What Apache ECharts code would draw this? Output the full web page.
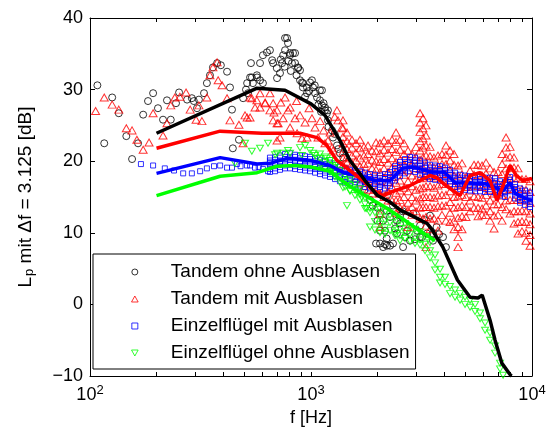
<!DOCTYPE html>
<html>
<head>
<meta charset="utf-8">
<script src="https://cdn.jsdelivr.net/npm/echarts@6/dist/echarts.min.js"></script>
<style>
  html, body { margin: 0; padding: 0; background: #fff; }
  #main { width: 551px; height: 435px; }
</style>
</head>
<body>
<div id="main"></div>
<script>
// tick positions on the log frequency axis
const xTicks = [100, 200, 300, 400, 500, 600, 700, 800, 900,
  1000, 2000, 3000, 4000, 5000, 6000, 7000, 8000, 9000, 10000];
const xLabels = [100, 1000, 10000];

// Tandem ohne Ausblasen (black circles) [f, Lp]
const blackLow = [[108,30.6],[116,22.5],[126,28.9],[135,26.7],[146,23.5],[155,20.3],[165,22.5],[174,26.5],[183,28.4],[193,29.5],[203,27.4],[214,25.8],[223,28.5],[232,25.8],[245,28.1],[253,29.6],[275,28.6],[289,28.8],[295,28.4],[305,27.4],[311,28.6],[328,29.5],[338,30.9],[349,32.0],[360,33.1],[376,33.7],[391,33.4],[417,32.5],[430,30.3],[439,27.2],[443,21.8],[472,23.0],[493,28.8],[508,30.0],[514,30.9],[519,29.5],[530,31.7],[535,33.7],[540,31.7],[546,30.9],[569,32.0],[570,31.7],[588,31.3],[588,33.7],[606,30.9],[606,34.8]];
const blackMid = [[632,35.2],[652,35.5],[667,34.1],[674,33.7],[700,33.0],[702,31.6],[724,32.3],[730,34.2],[740,33.7],[748,34.8],[760,33.2],[763,37.2],[763,35.5],[779,37.2],[787,36.5],[790,34.0],[804,35.1],[804,34.8],[810,32.6],[820,33.7],[829,35.1],[847,33.7],[847,35.1],[860,32.0],[874,33.0],[874,33.1],[892,32.7],[892,31.3],[910,31.0],[919,30.9],[919,30.3],[940,29.0],[959,30.3],[959,29.5],[980,29.8],[990,31.0],[1010,31.3],[1021,30.3],[1040,30.6],[1043,29.5],[1065,28.9],[1080,27.9],[1098,29.9],[1098,28.5],[1110,26.9],[1121,27.8],[1121,29.9],[1140,28.1],[1157,27.1],[1157,27.5],[1180,26.7],[1193,25.7],[1193,27.1],[1200,24.8],[1245,24.3],[1258,23.3],[1280,23.8],[1311,22.2],[1330,21.7],[1352,21.1],[1400,20.5]];
const blackHigh = [[1750,16.0],[1850,14.6],[1900,13.8],[1970,8.5],[1998,13.5],[1998,11.7],[2052,12.7],[2052,10.3],[2052,8.5],[2120,11.7],[2120,8.0],[2162,10.3],[2162,8.4],[2200,9.2],[2207,15.2],[2207,13.1],[2207,8.2],[2278,12.2],[2278,8.2],[2350,13.8],[2350,8.5],[2400,10.6],[2449,11.7],[2449,9.9],[2528,12.4],[2528,11.3],[2600,13.0],[2610,8.0],[2663,9.4],[2720,10.3],[2806,8.9],[2900,12.7],[2950,9.1],[3020,10.3],[3114,11.0],[3114,9.4],[3180,9.4],[3250,11.8],[3350,9.9],[3456,12.4],[3565,8.9],[3565,9.9],[3700,10.8],[3800,9.8],[3957,9.4],[4080,8.0]];

// Tandem mit Ausblasen (red triangles)
const redLow = [[106,27.0],[116,28.9],[126,27.9],[135,27.2],[146,24.6],[155,24.3],[163,23.0],[174,21.6],[185,22.6],[193,26.7],[214,23.6],[223,25.3],[232,27.8],[242,28.9],[255,29.0],[272,29.6],[284,27.2],[302,25.8],[311,27.8],[321,25.6],[338,28.9],[349,32.0],[360,33.1],[376,33.8],[380,31.3],[396,30.6],[417,28.8],[430,25.7],[472,25.1],[493,22.5],[503,26.4],[530,26.1],[540,28.8],[569,28.5],[588,27.5],[620,28.2],[652,29.5],[674,28.1],[702,27.1],[702,25.3]];
const redMid = [[514,26.1],[530,28.9],[558,27.5],[588,29.5],[620,28.1],[652,27.1],[674,25.7],[680,26.8],[702,22.9],[710,25.3],[724,23.3],[730,28.2],[748,26.0],[763,28.9],[787,27.1],[804,24.7],[804,27.5],[847,26.0],[860,28.4],[865,23.9],[892,26.4],[910,23.2],[940,25.4],[959,23.3],[980,27.4],[1010,26.0],[1043,24.7],[1076,23.3],[1100,25.6],[1140,24.3],[1157,22.5],[1193,22.9],[1220,24.0],[1245,21.9],[1258,21.5],[1280,26.2],[1311,27.1],[1325,25.7],[1381,24.7]];
// dense high-frequency part: [f, Lp, Lp, ...]
const redDense = [
  [1396, 25.7, 24.6, 23.4, 22.5, 21.3, 20.4, 19.5],
  [1455, 24.0, 22.8, 21.7, 20.6, 19.8, 19.0],
  [1533, 23.0, 21.9, 20.8, 19.7, 18.5],
  [1598, 22.5, 21.2, 20.1, 18.9, 17.5],
  [1666, 23.0, 21.8, 20.5, 19.3, 18.2, 17.0],
  [1737, 22.0, 20.8, 19.6, 18.3, 16.5],
  [1811, 22.2, 21.0, 19.7, 18.4, 17.2, 16.0],
  [1888, 21.5, 20.2, 19.0, 17.6, 15.5],
  [1969, 22.6, 21.4, 20.0, 18.8, 17.3, 16.0],
  [2052, 22.5, 21.1, 19.9, 18.5, 17.2, 15.5, 12.7, 10.8],
  [2140, 22.9, 21.6, 20.3, 19.0, 17.6, 16.2, 15.0],
  [2231, 22.5, 21.2, 19.8, 18.5, 17.1, 15.8, 14.5],
  [2326, 23.0, 21.7, 20.4, 19.1, 17.8, 16.4, 14.5],
  [2425, 24.0, 22.7, 21.3, 19.9, 18.6, 17.0, 15.6, 14.5, 12.8],
  [2528, 23.0, 21.6, 20.2, 18.8, 17.3, 15.9, 14.6, 13.5],
  [2635, 22.5, 21.0, 19.6, 18.1, 16.3, 15.0, 13.5],
  [2748, 21.5, 20.1, 18.7, 17.2, 15.8, 14.2, 13.1, 10.8],
  [2864, 21.0, 19.6, 18.0, 16.5, 15.0, 13.6, 12.5],
  [2987, 22.0, 20.6, 19.0, 17.5, 16.0, 14.5, 13.0],
  [3114, 26.7, 25.4, 24.1, 22.8, 21.5, 20.2, 18.9, 17.6, 16.2, 14.8, 13.5, 12.0],
  [3212, 26.0, 24.6, 23.2, 21.9, 20.5, 19.1, 17.7, 16.3, 15.0, 13.6, 12.0],
  [3314, 25.0, 23.6, 22.2, 20.8, 19.4, 18.0, 16.5, 15.0, 13.6, 12.2, 11.0, 8.0],
  [3456, 22.0, 20.7, 19.3, 17.9, 16.5, 15.0, 13.6, 12.0, 10.5],
  [3602, 20.5, 19.1, 17.7, 16.3, 14.9, 13.5, 12.0],
  [3755, 20.8, 19.4, 18.0, 16.6, 15.2, 13.7, 11.7, 10.3],
  [3915, 21.0, 19.6, 18.2, 16.8, 15.3, 13.8, 12.5],
  [4082, 22.2, 20.9, 19.6, 18.2, 16.8, 15.3, 13.8, 11.7],
  [4257, 21.5, 20.1, 18.7, 17.3, 15.8, 14.3, 12.8, 11.5],
  [4438, 21.0, 19.5, 18.0, 16.5, 15.0, 13.5, 11.7, 10.5],
  [4627, 19.4, 18.0, 16.6, 15.1, 13.6, 12.1, 10.8, 9.4, 8.0],
  [4824, 19.7, 18.2, 16.8, 15.3, 13.8, 12.3, 10.5],
  [5029, 17.7, 16.4, 15.0, 13.6, 12.2],
  [5244, 18.7, 17.3, 15.9, 14.5, 13.0],
  [5467, 19.5, 18.1, 16.6, 15.1, 13.5],
  [5700, 19.5, 18.0, 16.5, 15.0, 13.5, 12.3],
  [5942, 19.4, 18.0, 16.4, 14.9, 13.4, 12.5],
  [6195, 19.8, 18.3, 16.8, 15.3, 13.8, 12.5],
  [6459, 19.0, 17.5, 16.0, 14.5, 13.0, 11.7],
  [6733, 18.5, 17.0, 15.5, 14.0, 12.4, 10.6],
  [7020, 18.5, 17.0, 15.5, 14.0, 12.5],
  [7319, 21.0, 19.6, 18.2, 16.7, 15.2, 13.6, 11.7],
  [7630, 23.3, 21.9, 20.5, 19.0, 17.5, 16.0, 14.5, 13.3],
  [7956, 22.0, 20.6, 19.1, 17.6, 16.1, 14.6, 12.7],
  [8292, 20.5, 19.1, 17.6, 16.1, 14.6, 13.0, 11.3],
  [8645, 19.0, 17.6, 16.1, 14.6, 13.0, 11.5, 9.9],
  [9013, 17.5, 16.1, 14.6, 13.1, 11.6, 10.2],
  [9395, 17.5, 16.0, 14.5, 13.0, 11.5, 10.0, 8.9],
  [9800, 17.2, 15.7, 14.2, 12.7, 11.2, 9.7, 8.2]
];

// Einzelflügel mit Ausblasen (blue squares)
const blueLow = [[170,19.6],[193,19.4],[218,19.0],[240,18.7],[264,18.3],[289,18.3],[315,18.6],[338,19.0],[364,19.3],[388,19.4],[417,19.1],[439,19.1],[462,19.6],[480,19.3],[513,19.4],[530,19.4],[558,19.1],[580,19.2],[606,18.9],[639,18.6]];
const blueDense = [
  [652, 18.5, 18.9, 19.3, 19.8, 20.1, 20.5], [688, 18.6, 19.0, 19.5, 19.8, 20.2, 20.6],
  [724, 18.8, 19.2, 19.6, 20.0, 20.5, 20.8], [763, 19.0, 19.4, 19.8, 20.3, 20.6, 21.0],
  [804, 19.0, 19.5, 19.8, 20.2, 20.6, 21.1], [847, 18.9, 19.3, 19.7, 20.1, 20.6, 20.9],
  [892, 18.8, 19.2, 19.7, 20.0, 20.4, 20.8], [940, 18.7, 19.1, 19.5, 20.0, 20.3, 20.7],
  [990, 18.6, 19.0, 19.4, 19.8, 20.3, 20.6], [1043, 18.4, 18.9, 19.2, 19.6, 20.0, 20.4],
  [1098, 18.2, 18.6, 19.0, 19.5, 19.8, 20.2], [1157, 18.0, 18.4, 18.9, 19.2, 19.6, 20.0],
  [1219, 17.8, 18.2, 18.6, 19.0, 19.5, 19.8], [1284, 17.5, 17.9, 18.4, 18.7, 19.1, 19.5],
  [1352, 17.2, 17.6, 18.0, 18.5, 18.8, 19.2], [1425, 17.0, 17.5, 17.8, 18.2, 18.6, 19.0],
  [1501, 16.8, 17.2, 17.6, 18.1, 18.4, 18.8], [1581, 16.7, 17.1, 17.5, 17.9, 18.4, 18.7],
  [1666, 16.6, 17.0, 17.5, 17.8, 18.2, 18.6], [1755, 16.4, 16.8, 17.2, 17.7, 18.0, 18.4],
  [1849, 16.2, 16.7, 17.0, 17.4, 17.8, 18.2], [1948, 16.1, 16.5, 16.9, 17.4, 17.7, 18.1],
  [2052, 16.0, 16.4, 16.9, 17.2, 17.6, 18.0], [2162, 16.2, 16.6, 17.0, 17.5, 17.8, 18.2],
  [2278, 16.5, 16.9, 17.4, 17.7, 18.1, 18.5], [2400, 17.3, 17.7, 18.1, 18.6, 18.9, 19.3],
  [2528, 17.9, 18.4, 18.7, 19.1, 19.5, 19.9], [2663, 18.3, 18.7, 19.1, 19.6, 19.9, 20.3],
  [2806, 18.6, 19.0, 19.5, 19.8, 20.2, 20.6], [2956, 18.5, 18.9, 19.3, 19.8, 20.1, 20.5],
  [3114, 18.1, 18.6, 18.9, 19.3, 19.7, 20.1], [3281, 17.8, 18.2, 18.6, 19.1, 19.4, 19.8],
  [3456, 17.5, 17.9, 18.4, 18.7, 19.1, 19.5], [3641, 17.4, 17.8, 18.2, 18.6, 19.1, 19.4],
  [3836, 17.3, 17.7, 18.1, 18.6, 18.9, 19.3], [4041, 17.1, 17.6, 17.9, 18.3, 18.7, 19.1],
  [4257, 16.8, 17.2, 17.6, 18.1, 18.4, 18.8], [4485, 16.4, 16.8, 17.3, 17.6, 18.0, 18.4],
  [4725, 16.1, 16.5, 16.9, 17.4, 17.7, 18.1], [4978, 16.0, 16.5, 16.8, 17.2, 17.6, 18.0],
  [5244, 15.9, 16.3, 16.7, 17.2, 17.5, 17.9], [5525, 15.8, 16.2, 16.7, 17.0, 17.4, 17.8],
  [5820, 15.8, 16.3, 16.6, 17.0, 17.5, 17.8], [6132, 15.7, 16.1, 16.5, 17.0, 17.3, 17.7],
  [6459, 15.7, 16.1, 16.6, 16.9, 17.3, 17.7], [6805, 15.6, 16.0, 16.4, 16.9, 17.2, 17.6],
  [7169, 15.2, 15.6, 16.1, 16.4, 16.8, 17.2], [7553, 15.0, 15.5, 15.8, 16.2, 16.7, 17.0],
  [7956, 15.8, 16.2, 16.6, 17.1, 17.4, 17.8], [8382, 14.8, 15.2, 15.7, 16.0, 16.4, 16.8],
  [8830, 14.2, 14.6, 15.0, 15.5, 15.8, 16.2], [9302, 13.9, 14.4, 14.7, 15.1, 15.5, 15.9],
  [9800, 13.6, 14.0, 14.5, 14.8, 15.2, 15.6]
];

// Einzelflügel ohne Ausblasen (green triangles)
const greenLow = [[453,19.7],[503,22.5],[540,21.4],[588,21.8],[639,22.5],[688,20.9],[702,21.1],[748,21.1],[787,21.5],[804,21.1],[892,21.9],[910,20.8],[940,22.2],[990,21.5],[1021,21.1],[1043,20.8],[1065,20.4],[1180,20.4],[1219,20.1],[1258,19.1],[1311,19.7],[1395,16.3],[1455,13.8],[1501,15.9],[1620,15.6],[1700,14.9],[1780,13.4]];
const greenDense = [
  [1098, 19.5, 20.4, 21.0], [1157, 19.0, 19.8, 20.6], [1219, 18.5, 19.3, 20.1],
  [1284, 17.8, 18.6, 19.4], [1352, 17.1, 17.9, 18.7], [1425, 16.4, 17.2, 18.0],
  [1501, 15.8, 16.6, 17.4], [1581, 15.2, 16.0, 16.8], [1666, 14.6, 15.4, 16.2],
  [1755, 13.4, 14.0, 14.9], [1849, 10.8, 12.8, 13.4, 14.3], [1948, 10.4, 11.6, 12.8, 13.8],
  [2052, 10.0, 11.2, 12.2, 13.3], [2162, 9.8, 10.7, 11.8, 12.9], [2278, 10.3, 11.4, 12.5],
  [2400, 9.6, 10.0, 11.0, 12.1], [2528, 8.9, 9.6, 10.6, 11.7], [2663, 9.2, 10.2, 11.3],
  [2806, 8.8, 9.8, 10.9], [2956, 8.5, 9.4, 10.5], [3114, 8.3, 9.0, 10.1],
  [3281, 7.5, 8.4, 9.5], [3456, 6.5, 7.5, 8.6], [3641, 4.8, 5.8, 6.9],
  [3836, 3.0, 3.8, 4.9], [4041, 2.8, 3.8], [4257, 1.5, 2.5], [4485, 1.0, 2.0],
  [4725, 0.6, 1.5], [4978, 0.0, 1.0], [5244, -0.4, 0.6], [5525, -1.0, 0.0],
  [5820, -2.0, -1.2], [6132, -3.6, -2.6], [6459, -5.0, -4.0], [6805, -6.8, -5.8],
  [7169, -9.0, -8.2], [7400, -9.9]
];

// smoothed curves [f, Lp]
const blackLine = [[200,23.9],[570,30.2],[763,29.9],[1000,28.0],[1157,26.4],[1352,22.9],[1501,20.1],[1755,17.3],[2000,15.2],[2278,14.3],[2528,13.2],[2900,12.3],[3350,11.3],[3500,10.6],[3950,8.0],[4600,3.4],[5244,1.0],[5700,0.9],[5950,1.3],[6459,-2.2],[6805,-5.0],[7300,-8.2],[8000,-9.9],[8100,-10]];
const redLine = [[200,21.8],[388,24.2],[600,23.9],[892,23.9],[1065,23.3],[1180,22.2],[1311,20.1],[1501,18.7],[1720,17.3],[1900,16.0],[2120,15.2],[2350,15.8],[2806,16.6],[3456,18.0],[3700,17.7],[4080,16.6],[4725,15.2],[5244,18.0],[5820,18.4],[6459,17.3],[6945,14.5],[7400,16.6],[7956,19.4],[8500,18.0],[9100,17.3],[10000,17.6]];
const blueLine = [[200,18.3],[388,20.5],[570,19.6],[652,19.7],[780,20.4],[1000,20.1],[1219,19.4],[1400,18.4],[1666,18.0],[1948,17.3],[2278,17.3],[2600,19.0],[2900,19.2],[3456,18.5],[4000,18.5],[4500,17.0],[6100,16.9],[7400,15.9],[7956,17.0],[8400,15.5],[9300,14.8],[10000,14.5]];
const greenLine = [[200,15.2],[388,17.9],[570,18.4],[700,19.3],[850,19.4],[1000,19.2],[1219,18.6],[1352,17.5],[1501,16.5],[1720,15.4],[1948,14.4],[2160,13.6],[2528,12.2],[3000,10.6],[3641,8.9]];

const legendNames = ['Tandem ohne Ausblasen', 'Tandem mit Ausblasen',
  'Einzelflügel mit Ausblasen', 'Einzelflügel ohne Ausblasen'];

function expand(cols) {
  const out = [];
  cols.forEach(c => c.slice(1).forEach(v => out.push([c[0], v])));
  return out;
}

const chart = echarts.init(document.getElementById('main'), null, { renderer: 'canvas' });

const frameAxis = {
  axisLine: { show: true, onZero: false, lineStyle: { color: '#000', width: 1 } },
  splitLine: { show: false },
  minorTick: { show: false }
};

// marker shapes (paths so that legend icons keep their aspect)
const triUp = 'path://M5,0L10,9L0,9Z';
const triDown = 'path://M0,0L10,0L5,9Z';
const square = 'path://M0,0L10,0L10,10L0,10Z';

function pts(name, data, symbol, size, color) {
  return {
    name: name, type: 'scatter', data: data, symbol: symbol, symbolSize: size,
    itemStyle: { color: 'transparent', borderColor: color, borderWidth: 1 },
    emphasis: { disabled: true }
  };
}
function curve(name, data, color) {
  return {
    name: name, type: 'line', data: data, showSymbol: false, symbol: 'none',
    lineStyle: { color: color, width: 3.5 }, itemStyle: { color: color },
    emphasis: { disabled: true }
  };
}

const option = {
  animation: false,
  textStyle: { fontFamily: 'Liberation Sans', color: '#000' },
  grid: { left: 90, right: 19, top: 18, bottom: 59, containLabel: false, outerBoundsMode: 'none' },
  legend: {
    data: legendNames,
    orient: 'vertical',
    left: 93, top: 254,
    padding: [8, 6, 6, 38],
    itemGap: 7,
    itemWidth: 62, itemHeight: 6,
    symbolKeepAspect: true,
    borderColor: '#000', borderWidth: 1, borderRadius: 0,
    backgroundColor: '#fff',
    itemStyle: { borderWidth: 1 },
    selectedMode: false,
    textStyle: { fontSize: 19, lineHeight: 20, color: '#000', fontFamily: 'Liberation Sans' }
  },
  xAxis: [
    Object.assign({}, frameAxis, {
      type: 'log', logBase: 10, min: 100, max: 10000, position: 'bottom',
      axisTick: { show: true, inside: true, length: 4, customValues: xTicks, lineStyle: { color: '#000' } },
      axisLabel: {
        show: true, customValues: xLabels, margin: 8,
        formatter: v => '{b|10}{s|' + Math.round(Math.log10(v)) + '}',
        rich: {
          b: { fontSize: 18, color: '#000', fontFamily: 'Liberation Sans' },
          s: { fontSize: 13, color: '#000', fontFamily: 'Liberation Sans', padding: [0, 0, 9, 0] }
        }
      },
      name: 'f [Hz]', nameLocation: 'middle', nameGap: 27,
      nameTextStyle: { fontSize: 18, color: '#000', fontFamily: 'Liberation Sans' }
    }),
    Object.assign({}, frameAxis, {
      type: 'log', logBase: 10, min: 100, max: 10000, position: 'top',
      axisTick: { show: true, inside: true, length: 4, customValues: xTicks, lineStyle: { color: '#000' } },
      axisLabel: { show: false }
    })
  ],
  yAxis: [
    Object.assign({}, frameAxis, {
      type: 'value', min: -10, max: 40, interval: 10, position: 'left',
      axisTick: { show: true, inside: true, length: 5, lineStyle: { color: '#000' } },
      axisLabel: {
        fontSize: 18, color: '#000', margin: 7, fontFamily: 'Liberation Sans',
        formatter: v => (v < 0 ? '\u2212' + (-v) : String(v))
      },
      name: '{a|L}{p|p}{a| mit Δf = 3.125 [dB]}',
      nameLocation: 'middle', nameRotate: 90, nameGap: 54,
      nameTextStyle: {
        rich: {
          a: { fontSize: 19, color: '#000', fontFamily: 'Liberation Sans' },
          p: { fontSize: 13, color: '#000', fontFamily: 'Liberation Sans', padding: [8, 0, 0, 1] }
        }
      }
    }),
    Object.assign({}, frameAxis, {
      type: 'value', min: -10, max: 40, interval: 10, position: 'right',
      axisTick: { show: true, inside: true, length: 5, lineStyle: { color: '#000' } },
      axisLabel: { show: false }
    })
  ],
  series: [
    pts(legendNames[0], blackLow.concat(blackMid, blackHigh), 'circle', 7, '#000000'),
    pts(legendNames[1], redLow.concat(redMid, expand(redDense)), triUp, [8, 7], '#ff0000'),
    pts(legendNames[2], blueLow.concat(expand(blueDense)), square, 5, '#0000ff'),
    pts(legendNames[3], greenLow.concat(expand(greenDense)), triDown, [7, 6], '#00ff00'),
    curve('green curve', greenLine, '#00ff00'),
    curve('blue curve', blueLine, '#0000ff'),
    curve('red curve', redLine, '#ff0000'),
    curve('black curve', blackLine, '#000000')
  ]
};

chart.setOption(option);
</script>
</body>
</html>
